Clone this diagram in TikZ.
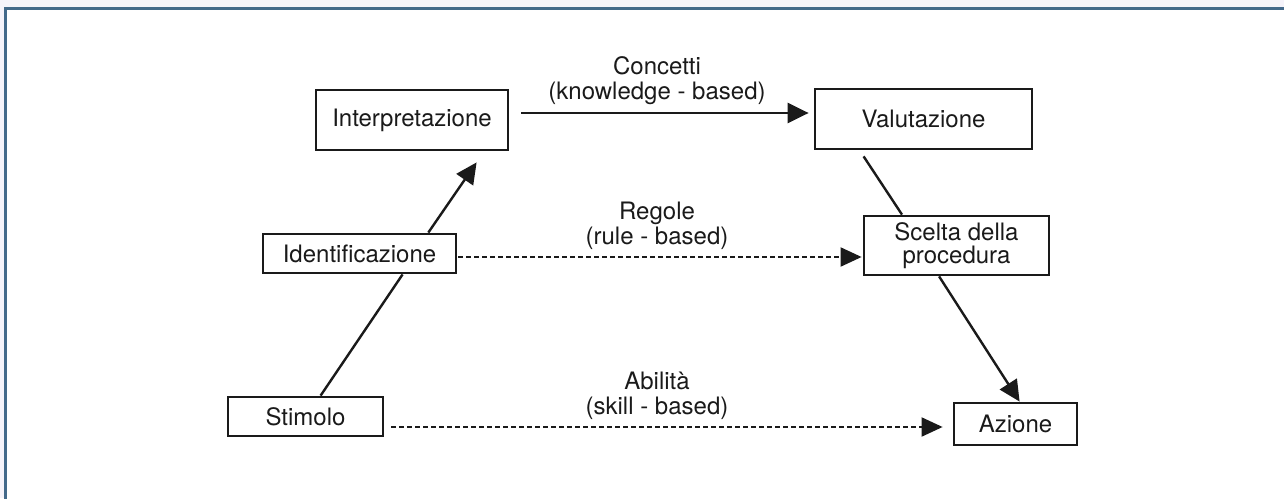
\documentclass[tikz,border=0pt]{standalone}
\usepackage{fontspec}
\setmainfont{TeX Gyre Heros}
\usetikzlibrary{arrows.meta,calc}
\definecolor{frameblue}{HTML}{43698A}
\definecolor{outerbg}{HTML}{F5F3FA}
\definecolor{ink}{HTML}{1A1A1A}
\begin{document}
\begin{tikzpicture}[x=1pt,y=-1pt,
  box/.style={draw=ink,line width=2.8pt,fill=white,inner sep=0pt,align=center,
    font=\fontsize{24}{23}\selectfont,text=ink},
  lbl/.style={align=center,font=\fontsize{24}{25}\selectfont,text=ink,inner sep=0pt},
  conn/.style={draw=ink,line width=2.4pt},
  arr/.style={conn,-{Triangle[length=21pt,width=20pt]}},
  darr/.style={draw=ink,line width=2pt,dash pattern=on 5pt off 3pt,
    -{Triangle[length=21pt,width=19pt]}}]
\useasboundingbox (0,0) rectangle (1284,498);
\fill[outerbg] (0,0) rectangle (1284,498);
\draw[frameblue,line width=3pt,fill=white] (5.3,8.7) rectangle (1300,520);

\node[box,minimum width=192pt,minimum height=60pt] (interp) at (412,120) {Interpretazione};
\node[box,minimum width=217pt,minimum height=60pt] (valut) at (923.5,119) {Valutazione};
\node[box,minimum width=185pt,minimum height=59pt] (scelta) at (956.5,245.5) {Scelta della\\procedura};
\node[box,minimum width=193pt,minimum height=39pt] (ident) at (359.5,253.5) {Identificazione};
\node[box,minimum width=155pt,minimum height=39pt] (stim) at (305.5,416.5) {Stimolo};
\node[box,minimum width=123pt,minimum height=42pt] (azione) at (1015.5,424) {Azione};

\node[lbl] (lc) at (657,80.5) {Concetti\\(knowledge - based)};
\node[lbl] (lr) at (657,226) {Regole\\(rule - based)};
\node[lbl] (la) at (657,396) {Abilità\\(skill - based)};

% rising path Stimolo -> Identificazione -> Interpretazione
\draw[conn] ($(stim.north west)+(94,0)$) -- ($(ident.south west)+(141,0)$);
\draw[arr] ($(ident.north west)+(166.7,0)$) -- ($(interp.south west)+(162,11)$);

% top arrow
\draw[arr] ($(interp.east)+(12,-7)$) -- ($(valut.west)+(-5,-6)$);

% descending path Valutazione -> Scelta -> Azione
\draw[conn] ($(valut.south west)+(50,6)$) -- ($(scelta.north west)+(39.4,0)$);
\draw[arr] ($(scelta.south west)+(76.5,0)$) -- ($(azione.north west)+(67,0)$);

% dashed arrows
\draw[darr] ($(ident.east)+(1,3.5)$) -- ($(scelta.west)+(-1,11.5)$);
\draw[darr] ($(stim.east)+(7,10.5)$) -- ($(azione.west)+(-10,3)$);
\end{tikzpicture}
\end{document}
